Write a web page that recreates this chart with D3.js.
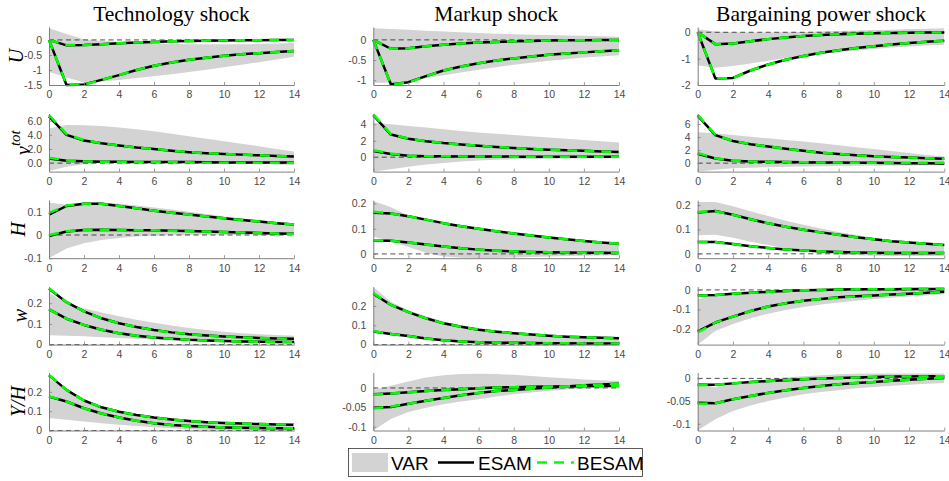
<!DOCTYPE html>
<html><head><meta charset="utf-8">
<script src="https://cdn.jsdelivr.net/npm/d3@7"></script>
<style>body{margin:0;background:#fff} svg{display:block}</style>
</head><body><svg id="chart" width="949" height="481"></svg>
<script>
// ---------- categories / labels ----------
const horizons = [0,1,2,3,4,5,6,7,8,9,10,11,12,13,14];
const xTicks = [0,2,4,6,8,10,12,14];
const shockTitles = ["Technology shock","Markup shock","Bargaining power shock"];
const rowVars = ["U","v","H","w","Y/H"];
const legendLabels = ["VAR","ESAM","BESAM"];

// ---------- Technology shock ----------
const tech_U_lo    = [-1.06,-1.25,-1.42,-1.38,-1.33,-1.27,-1.21,-1.14,-1.07,-0.99,-0.91,-0.83,-0.74,-0.65,-0.56];
const tech_U_hi    = [0.39,0.2,0.02,-0.04,-0.07,-0.095,-0.115,-0.13,-0.14,-0.145,-0.145,-0.14,-0.13,-0.12,-0.1];
const tech_U_esam1 = [0,-0.18,-0.17,-0.14,-0.11,-0.085,-0.065,-0.048,-0.035,-0.025,-0.018,-0.012,-0.007,-0.003,0];
const tech_U_besam1= [0,-0.17,-0.17,-0.14,-0.11,-0.085,-0.065,-0.048,-0.035,-0.025,-0.018,-0.012,-0.007,-0.003,0];
const tech_U_esam2 = [0,-1.5,-1.48,-1.33,-1.17,-1.0,-0.86,-0.75,-0.66,-0.59,-0.53,-0.48,-0.44,-0.4,-0.37];
const tech_U_besam2= [0,-1.49,-1.49,-1.33,-1.17,-1.0,-0.86,-0.75,-0.66,-0.59,-0.53,-0.48,-0.44,-0.4,-0.37];
const tech_U_ticks = [-1.5,-1,-0.5,0];
const tech_U_tickLabels = ["-1.5","-1","-0.5","0"];

const tech_V_lo    = [-1.1,-0.5,-0.15,0.05,0.15,0.22,0.26,0.25,0.18,0.1,0.02,-0.05,-0.1,-0.18,-0.25];
const tech_V_hi    = [4.9,5.4,5.35,5.25,5.05,4.8,4.5,4.15,3.8,3.45,3.1,2.75,2.4,2.0,1.65];
const tech_V_esam1 = [6.6,4.0,3.2,2.8,2.5,2.2,2.0,1.75,1.55,1.4,1.3,1.2,1.1,1.0,0.95];
const tech_V_besam1= [6.8,4.1,3.25,2.8,2.5,2.2,2.0,1.75,1.55,1.4,1.3,1.2,1.1,1.0,0.95];
const tech_V_esam2 = [0.65,0.35,0.25,0.2,0.18,0.17,0.16,0.15,0.14,0.12,0.1,0.1,0.1,0.1,0.1];
const tech_V_besam2= [0.75,0.38,0.25,0.2,0.18,0.17,0.16,0.15,0.12,0.05,0.05,0.05,0.05,0.05,0.05];
const tech_V_ticks = [0,2,4,6];
const tech_V_tickLabels = ["0.0","2.0","4.0","6.0"];

const tech_H_lo    = [-0.1,-0.058,-0.036,-0.022,-0.013,-0.007,-0.003,-0.001,0.0,0.001,0.001,0.001,0.001,0.001,0.001];
const tech_H_hi    = [0.14,0.13,0.14,0.14,0.135,0.127,0.118,0.11,0.1,0.09,0.08,0.072,0.064,0.056,0.05];
const tech_H_esam1 = [0.088,0.125,0.135,0.135,0.125,0.115,0.105,0.096,0.088,0.08,0.072,0.065,0.058,0.051,0.045];
const tech_H_besam1= [0.095,0.127,0.135,0.135,0.125,0.115,0.105,0.096,0.088,0.08,0.072,0.065,0.058,0.051,0.045];
const tech_H_esam2 = [-0.004,0.015,0.022,0.023,0.022,0.021,0.02,0.018,0.017,0.015,0.013,0.011,0.009,0.007,0.005];
const tech_H_besam2= [0.0,0.016,0.022,0.023,0.022,0.021,0.02,0.018,0.017,0.015,0.013,0.011,0.009,0.006,0.004];
const tech_H_ticks = [-0.1,0,0.1];
const tech_H_tickLabels = ["-0.1","0","0.1"];

const tech_W_lo    = [0.045,0.043,0.04,0.036,0.032,0.028,0.025,0.022,0.019,0.017,0.015,0.013,0.012,0.011,0.01];
const tech_W_hi    = [0.25,0.2,0.175,0.155,0.137,0.12,0.105,0.092,0.08,0.07,0.062,0.055,0.05,0.046,0.043];
const tech_W_esam1 = [0.27,0.205,0.16,0.127,0.103,0.085,0.07,0.059,0.05,0.044,0.039,0.035,0.032,0.03,0.028];
const tech_W_besam1= [0.272,0.205,0.16,0.127,0.103,0.085,0.07,0.059,0.05,0.044,0.039,0.035,0.032,0.03,0.028];
const tech_W_esam2 = [0.17,0.125,0.095,0.072,0.055,0.043,0.034,0.028,0.023,0.02,0.017,0.015,0.014,0.013,0.012];
const tech_W_besam2= [0.17,0.125,0.095,0.072,0.055,0.043,0.034,0.028,0.023,0.02,0.017,0.015,0.014,0.013,0.012];
const tech_W_ticks = [0,0.1,0.2];
const tech_W_tickLabels = ["0","0.1","0.2"];

const tech_Y_lo    = [0.065,0.055,0.046,0.038,0.03,0.023,0.017,0.011,0.006,0.003,0.001,0.0,0.0,0.0,0.0];
const tech_Y_hi    = [0.27,0.205,0.152,0.118,0.096,0.08,0.068,0.058,0.05,0.044,0.04,0.037,0.034,0.032,0.031];
const tech_Y_esam1 = [0.285,0.21,0.155,0.12,0.097,0.08,0.067,0.057,0.049,0.043,0.039,0.036,0.033,0.031,0.03];
const tech_Y_besam1= [0.287,0.21,0.155,0.12,0.097,0.08,0.067,0.057,0.049,0.043,0.039,0.036,0.033,0.031,0.03];
const tech_Y_esam2 = [0.175,0.15,0.115,0.088,0.067,0.05,0.038,0.029,0.023,0.019,0.016,0.014,0.013,0.012,0.012];
const tech_Y_besam2= [0.177,0.15,0.115,0.088,0.067,0.05,0.038,0.029,0.023,0.019,0.016,0.014,0.013,0.012,0.012];
const tech_Y_ticks = [0,0.1,0.2];
const tech_Y_tickLabels = ["0","0.1","0.2"];

// ---------- Markup shock ----------
const mark_U_lo    = [-1.07,-1.06,-1.02,-0.95,-0.88,-0.81,-0.74,-0.68,-0.62,-0.57,-0.52,-0.48,-0.44,-0.41,-0.38];
const mark_U_hi    = [0.29,0.27,0.25,0.23,0.21,0.19,0.17,0.155,0.14,0.13,0.12,0.11,0.1,0.09,0.08];
const mark_U_esam1 = [0,-0.22,-0.21,-0.16,-0.12,-0.09,-0.065,-0.05,-0.035,-0.025,-0.018,-0.012,-0.008,-0.005,-0.003];
const mark_U_besam1= [0,-0.22,-0.21,-0.16,-0.12,-0.09,-0.065,-0.05,-0.035,-0.025,-0.018,-0.012,-0.008,-0.005,-0.003];
const mark_U_esam2 = [0,-1.1,-1.05,-0.9,-0.76,-0.66,-0.58,-0.51,-0.46,-0.41,-0.37,-0.34,-0.31,-0.28,-0.26];
const mark_U_besam2= [0,-1.1,-1.06,-0.9,-0.76,-0.66,-0.58,-0.51,-0.46,-0.41,-0.37,-0.34,-0.31,-0.28,-0.26];
const mark_U_ticks = [-1,-0.5,0];
const mark_U_tickLabels = ["-1","-0.5","0"];

const mark_V_lo    = [-1.75,-1.45,-1.15,-0.9,-0.7,-0.52,-0.4,-0.32,-0.26,-0.22,-0.19,-0.17,-0.15,-0.14,-0.13];
const mark_V_hi    = [4.2,4.0,3.8,3.6,3.4,3.2,3.0,2.85,2.7,2.55,2.4,2.25,2.1,1.95,1.8];
const mark_V_esam1 = [5.1,2.75,2.25,1.95,1.72,1.55,1.4,1.25,1.12,1.0,0.92,0.84,0.77,0.7,0.63];
const mark_V_besam1= [5.2,2.8,2.25,1.95,1.72,1.55,1.4,1.25,1.12,1.0,0.92,0.84,0.77,0.7,0.6];
const mark_V_esam2 = [0.75,0.4,0.18,0.13,0.11,0.1,0.09,0.08,0.07,0.06,0.05,0.05,0.05,0.04,0.04];
const mark_V_besam2= [0.85,0.45,0.18,0.13,0.11,0.1,0.09,0.08,0.07,0.06,0.05,0.05,0.05,0.04,0.04];
const mark_V_ticks = [0,2,4];
const mark_V_tickLabels = ["0","2","4"];

const mark_H_lo    = [0.068,0.05,0.027,0.005,-0.01,-0.015,-0.016,-0.016,-0.014,-0.012,-0.01,-0.008,-0.007,-0.006,-0.005];
const mark_H_hi    = [0.21,0.185,0.152,0.136,0.123,0.112,0.101,0.091,0.082,0.074,0.066,0.059,0.052,0.046,0.041];
const mark_H_esam1 = [0.163,0.16,0.149,0.136,0.122,0.11,0.1,0.09,0.081,0.073,0.065,0.058,0.051,0.045,0.04];
const mark_H_besam1= [0.167,0.16,0.149,0.136,0.122,0.11,0.1,0.09,0.081,0.073,0.065,0.058,0.051,0.045,0.04];
const mark_H_esam2 = [0.053,0.052,0.045,0.037,0.029,0.022,0.017,0.013,0.01,0.008,0.007,0.006,0.005,0.005,0.004];
const mark_H_besam2= [0.054,0.052,0.045,0.037,0.029,0.022,0.017,0.013,0.01,0.008,0.007,0.006,0.005,0.005,0.004];
const mark_H_ticks = [0,0.1,0.2];
const mark_H_tickLabels = ["0","0.1","0.2"];

const mark_W_lo    = [0.068,0.055,0.043,0.032,0.024,0.018,0.013,0.009,0.006,0.004,0.003,0.002,0.002,0.001,0.001];
const mark_W_hi    = [0.298,0.222,0.178,0.146,0.12,0.1,0.085,0.074,0.064,0.057,0.05,0.045,0.041,0.038,0.036];
const mark_W_esam1 = [0.263,0.205,0.168,0.136,0.11,0.092,0.077,0.067,0.059,0.052,0.046,0.041,0.038,0.035,0.033];
const mark_W_besam1= [0.267,0.205,0.168,0.136,0.11,0.092,0.077,0.067,0.059,0.052,0.046,0.041,0.038,0.035,0.033];
const mark_W_esam2 = [0.068,0.055,0.044,0.031,0.022,0.016,0.012,0.01,0.009,0.008,0.007,0.007,0.006,0.006,0.006];
const mark_W_besam2= [0.07,0.055,0.044,0.031,0.022,0.016,0.012,0.01,0.009,0.008,0.007,0.007,0.006,0.006,0.006];
const mark_W_ticks = [0,0.1,0.2];
const mark_W_tickLabels = ["0","0.1","0.2"];

const mark_Y_lo    = [-0.11,-0.08,-0.062,-0.051,-0.042,-0.035,-0.029,-0.022,-0.016,-0.012,-0.008,-0.004,-0.001,0.001,0.003];
const mark_Y_hi    = [-0.005,0.006,0.017,0.027,0.033,0.036,0.037,0.036,0.034,0.031,0.028,0.025,0.022,0.02,0.018];
const mark_Y_esam1 = [-0.016,-0.014,-0.011,-0.008,-0.005,-0.003,-0.001,0.001,0.002,0.003,0.004,0.004,0.005,0.005,0.005];
const mark_Y_besam1= [-0.017,-0.014,-0.011,-0.008,-0.005,-0.003,-0.001,0.001,0.002,0.003,0.004,0.004,0.005,0.005,0.005];
const mark_Y_esam2 = [-0.051,-0.049,-0.041,-0.033,-0.026,-0.019,-0.013,-0.008,-0.005,-0.002,0.001,0.004,0.007,0.009,0.011];
const mark_Y_besam2= [-0.053,-0.048,-0.041,-0.033,-0.026,-0.019,-0.013,-0.008,-0.005,-0.002,0.001,0.004,0.007,0.009,0.011];
const mark_Y_ticks = [-0.1,-0.05,0];
const mark_Y_tickLabels = ["-0.1","-0.05","0"];

// ---------- Bargaining power shock ----------
const barg_U_lo    = [-1.25,-1.35,-1.28,-1.18,-1.08,-0.98,-0.9,-0.82,-0.75,-0.69,-0.63,-0.58,-0.54,-0.5,-0.47];
const barg_U_hi    = [0.11,0.03,0.0,-0.01,-0.01,0.0,0.01,0.03,0.05,0.07,0.09,0.1,0.12,0.13,0.15];
const barg_U_esam1 = [0,-0.45,-0.43,-0.34,-0.26,-0.2,-0.14,-0.1,-0.075,-0.055,-0.04,-0.03,-0.02,-0.01,-0.005];
const barg_U_besam1= [0,-0.45,-0.43,-0.34,-0.26,-0.2,-0.14,-0.1,-0.075,-0.055,-0.04,-0.03,-0.02,-0.01,-0.005];
const barg_U_esam2 = [0,-1.75,-1.73,-1.45,-1.22,-1.04,-0.9,-0.78,-0.68,-0.6,-0.53,-0.46,-0.41,-0.36,-0.32];
const barg_U_besam2= [0,-1.74,-1.74,-1.45,-1.22,-1.04,-0.9,-0.78,-0.68,-0.6,-0.53,-0.46,-0.41,-0.36,-0.32];
const barg_U_ticks = [-2,-1,0];
const barg_U_tickLabels = ["-2","-1","0"];

const barg_V_lo    = [-1.3,-1.0,-0.8,-0.7,-0.62,-0.56,-0.52,-0.48,-0.45,-0.42,-0.4,-0.38,-0.36,-0.34,-0.32];
const barg_V_hi    = [4.75,4.6,4.3,4.05,3.8,3.55,3.3,3.05,2.75,2.45,2.15,1.85,1.55,1.25,1.0];
const barg_V_esam1 = [7.3,4.3,3.4,2.9,2.55,2.2,1.9,1.6,1.4,1.2,1.05,0.95,0.85,0.75,0.68];
const barg_V_besam1= [7.4,4.35,3.4,2.9,2.55,2.2,1.9,1.6,1.4,1.2,1.05,0.95,0.85,0.75,0.68];
const barg_V_esam2 = [1.45,0.7,0.38,0.25,0.2,0.16,0.13,0.1,0.08,0.06,0.04,0.02,0.0,-0.02,-0.05];
const barg_V_besam2= [1.55,0.75,0.38,0.25,0.2,0.16,0.13,0.1,0.08,0.06,0.05,0.05,0.05,0.05,0.04];
const barg_V_ticks = [0,2,4,6];
const barg_V_tickLabels = ["0","2","4","6"];

const barg_H_lo    = [0.076,0.078,0.066,0.05,0.036,0.022,0.011,0.003,-0.003,-0.006,-0.008,-0.009,-0.009,-0.009,-0.009];
const barg_H_hi    = [0.213,0.213,0.195,0.175,0.155,0.136,0.119,0.104,0.09,0.077,0.066,0.057,0.049,0.043,0.038];
const barg_H_esam1 = [0.17,0.176,0.16,0.142,0.125,0.111,0.099,0.088,0.078,0.068,0.06,0.052,0.046,0.041,0.036];
const barg_H_besam1= [0.172,0.175,0.16,0.142,0.125,0.111,0.099,0.088,0.078,0.068,0.06,0.052,0.046,0.041,0.036];
const barg_H_esam2 = [0.048,0.048,0.04,0.031,0.024,0.018,0.014,0.01,0.007,0.005,0.004,0.003,0.003,0.003,0.003];
const barg_H_besam2= [0.048,0.048,0.04,0.031,0.024,0.018,0.014,0.01,0.007,0.005,0.004,0.003,0.003,0.003,0.003];
const barg_H_ticks = [0,0.1,0.2];
const barg_H_tickLabels = ["0","0.1","0.2"];

const barg_W_lo    = [-0.28,-0.21,-0.175,-0.145,-0.122,-0.103,-0.088,-0.075,-0.064,-0.055,-0.047,-0.04,-0.034,-0.028,-0.022];
const barg_W_hi    = [-0.047,-0.03,-0.018,-0.01,-0.004,0.0,0.003,0.005,0.006,0.007,0.008,0.008,0.008,0.008,0.008];
const barg_W_esam1 = [-0.028,-0.026,-0.02,-0.015,-0.01,-0.005,-0.002,0.0,0.002,0.003,0.004,0.004,0.005,0.005,0.005];
const barg_W_besam1= [-0.03,-0.026,-0.02,-0.015,-0.01,-0.005,-0.002,0.0,0.002,0.003,0.004,0.004,0.005,0.006,0.006];
const barg_W_esam2 = [-0.212,-0.167,-0.137,-0.108,-0.085,-0.068,-0.055,-0.046,-0.038,-0.033,-0.029,-0.024,-0.02,-0.015,-0.01];
const barg_W_besam2= [-0.218,-0.167,-0.137,-0.108,-0.085,-0.068,-0.055,-0.046,-0.038,-0.033,-0.029,-0.024,-0.02,-0.015,-0.01];
const barg_W_ticks = [-0.2,-0.1,0];
const barg_W_tickLabels = ["-0.2","-0.1","0"];

const barg_Y_lo    = [-0.115,-0.09,-0.072,-0.06,-0.05,-0.042,-0.035,-0.03,-0.026,-0.022,-0.019,-0.016,-0.014,-0.012,-0.01];
const barg_Y_hi    = [-0.01,-0.02,-0.012,-0.006,-0.002,0.002,0.005,0.007,0.009,0.01,0.011,0.011,0.011,0.011,0.011];
const barg_Y_esam1 = [-0.014,-0.014,-0.011,-0.008,-0.006,-0.004,-0.002,0.0,0.001,0.002,0.003,0.004,0.004,0.005,0.005];
const barg_Y_besam1= [-0.015,-0.014,-0.011,-0.008,-0.006,-0.004,-0.002,0.0,0.001,0.002,0.003,0.004,0.004,0.004,0.005];
const barg_Y_esam2 = [-0.054,-0.055,-0.046,-0.039,-0.032,-0.026,-0.021,-0.017,-0.013,-0.01,-0.008,-0.005,-0.003,-0.001,0.001];
const barg_Y_besam2= [-0.056,-0.055,-0.046,-0.039,-0.032,-0.026,-0.021,-0.017,-0.013,-0.01,-0.008,-0.005,-0.003,-0.001,0.002];
const barg_Y_ticks = [-0.1,-0.05,0];
const barg_Y_tickLabels = ["-0.1","-0.05","0"];

// ---------- y-axis ranges per panel ----------
const tech_domains = [[-1.5,0.43],[-1.2,7.0],[-0.1,0.15],[0,0.28],[0,0.3]];
const mark_domains = [[-1.12,0.32],[-1.75,5.3],[-0.017,0.213],[0,0.3],[-0.11,0.04]];
const barg_domains = [[-2,0.2],[-1.3,7.6],[-0.018,0.22],[-0.28,0.017],[-0.115,0.013]];

// ---------- assemble ----------
function P(lo,hi,e1,b1,e2,b2,ticks,labels,dom){return {lo,hi,e1,b1,e2,b2,ticks,labels,dom};}
const columns = [
 [P(tech_U_lo,tech_U_hi,tech_U_esam1,tech_U_besam1,tech_U_esam2,tech_U_besam2,tech_U_ticks,tech_U_tickLabels,tech_domains[0]),
  P(tech_V_lo,tech_V_hi,tech_V_esam1,tech_V_besam1,tech_V_esam2,tech_V_besam2,tech_V_ticks,tech_V_tickLabels,tech_domains[1]),
  P(tech_H_lo,tech_H_hi,tech_H_esam1,tech_H_besam1,tech_H_esam2,tech_H_besam2,tech_H_ticks,tech_H_tickLabels,tech_domains[2]),
  P(tech_W_lo,tech_W_hi,tech_W_esam1,tech_W_besam1,tech_W_esam2,tech_W_besam2,tech_W_ticks,tech_W_tickLabels,tech_domains[3]),
  P(tech_Y_lo,tech_Y_hi,tech_Y_esam1,tech_Y_besam1,tech_Y_esam2,tech_Y_besam2,tech_Y_ticks,tech_Y_tickLabels,tech_domains[4])],
 [P(mark_U_lo,mark_U_hi,mark_U_esam1,mark_U_besam1,mark_U_esam2,mark_U_besam2,mark_U_ticks,mark_U_tickLabels,mark_domains[0]),
  P(mark_V_lo,mark_V_hi,mark_V_esam1,mark_V_besam1,mark_V_esam2,mark_V_besam2,mark_V_ticks,mark_V_tickLabels,mark_domains[1]),
  P(mark_H_lo,mark_H_hi,mark_H_esam1,mark_H_besam1,mark_H_esam2,mark_H_besam2,mark_H_ticks,mark_H_tickLabels,mark_domains[2]),
  P(mark_W_lo,mark_W_hi,mark_W_esam1,mark_W_besam1,mark_W_esam2,mark_W_besam2,mark_W_ticks,mark_W_tickLabels,mark_domains[3]),
  P(mark_Y_lo,mark_Y_hi,mark_Y_esam1,mark_Y_besam1,mark_Y_esam2,mark_Y_besam2,mark_Y_ticks,mark_Y_tickLabels,mark_domains[4])],
 [P(barg_U_lo,barg_U_hi,barg_U_esam1,barg_U_besam1,barg_U_esam2,barg_U_besam2,barg_U_ticks,barg_U_tickLabels,barg_domains[0]),
  P(barg_V_lo,barg_V_hi,barg_V_esam1,barg_V_besam1,barg_V_esam2,barg_V_besam2,barg_V_ticks,barg_V_tickLabels,barg_domains[1]),
  P(barg_H_lo,barg_H_hi,barg_H_esam1,barg_H_besam1,barg_H_esam2,barg_H_besam2,barg_H_ticks,barg_H_tickLabels,barg_domains[2]),
  P(barg_W_lo,barg_W_hi,barg_W_esam1,barg_W_besam1,barg_W_esam2,barg_W_besam2,barg_W_ticks,barg_W_tickLabels,barg_domains[3]),
  P(barg_Y_lo,barg_Y_hi,barg_Y_esam1,barg_Y_besam1,barg_Y_esam2,barg_Y_besam2,barg_Y_ticks,barg_Y_tickLabels,barg_domains[4])]
];

// ---------- layout ----------
const colX = [49, 373.3, 697.7];
const colW = [245, 245.7, 246.6];
const rowBottom = [85, 171.6, 258.2, 344.6, 430.5];
const axH = 58;
const AX = "#808080", TXT = "#4a4a4a", BAND = "#d3d3d3", GREEN = "#00ff00";
const tickFont = "Liberation Sans, Arial, sans-serif";
const serif = "Liberation Serif, Times New Roman, serif";

const svg = d3.select("#chart");
const defs = svg.append("defs");

columns.forEach((col, c) => {
  // column title
  svg.append("text").attr("x", colX[c] + colW[c]/2).attr("y", 21)
    .attr("text-anchor","middle").attr("font-family", serif).attr("font-size", 21.5)
    .attr("fill","#000").text(shockTitles[c]);

  col.forEach((p, r) => {
    const x = d3.scaleLinear().domain([0,14]).range([colX[c], colX[c]+colW[c]]);
    const y = d3.scaleLinear().domain(p.dom).range([rowBottom[r], rowBottom[r]-axH]);
    const g = svg.append("g");
    const cid = `clip${c}_${r}`, lid = `clipL${c}_${r}`;
    defs.append("clipPath").attr("id", cid).append("rect")
      .attr("x", colX[c]).attr("y", rowBottom[r]-axH).attr("width", colW[c]).attr("height", axH);
    defs.append("clipPath").attr("id", lid).append("rect")
      .attr("x", colX[c]-2).attr("y", rowBottom[r]-axH-2).attr("width", colW[c]+4).attr("height", axH+4);

    // VAR band
    const area = d3.area().x((d,i)=>x(horizons[i])).y0((d,i)=>y(p.lo[i])).y1((d,i)=>y(p.hi[i]));
    g.append("path").datum(horizons).attr("d", area).attr("fill", BAND).attr("clip-path", `url(#${cid})`);

    // zero line
    if (p.dom[0] <= 0 && p.dom[1] >= 0) {
      g.append("line").attr("x1", x(0)).attr("x2", x(14)).attr("y1", y(0)).attr("y2", y(0))
        .attr("stroke","#222").attr("stroke-width",0.8).attr("stroke-dasharray","5,3.5");
    }

    const line = arr => d3.line().x((d,i)=>x(horizons[i])).y((d,i)=>y(arr[i]))(horizons);
    const lg = g.append("g").attr("clip-path", `url(#${lid})`).attr("fill","none");
    [p.e1, p.e2].forEach(arr => lg.append("path").attr("d", line(arr))
      .attr("stroke","#000").attr("stroke-width",2.5).attr("stroke-linejoin","round"));
    [p.b1, p.b2].forEach(arr => lg.append("path").attr("d", line(arr))
      .attr("stroke",GREEN).attr("stroke-width",2.5).attr("stroke-dasharray","10,7"));

    // axes (MATLAB style: left + bottom, inward ticks)
    const xAxis = d3.axisBottom(x).tickValues(xTicks).tickSizeInner(-3).tickSizeOuter(0).tickPadding(6).tickFormat(d3.format("d"));
    const ga = g.append("g").attr("transform", `translate(0,${rowBottom[r]})`).call(xAxis);
    const yAxis = d3.axisLeft(y).tickValues(p.ticks).tickSizeInner(-3).tickSizeOuter(0).tickPadding(7)
      .tickFormat((d,i)=>p.labels[i]);
    const gy = g.append("g").attr("transform", `translate(${colX[c]},0)`).call(yAxis);
    [ga, gy].forEach(a => {
      a.select(".domain").attr("stroke", AX).attr("stroke-width", 1);
      a.selectAll(".tick line").attr("stroke", AX).attr("stroke-width", 0.8);
      a.selectAll(".tick text").attr("fill", TXT).attr("font-family", tickFont).attr("font-size", 10.5);
    });
  });
});

// row labels (italic serif, rotated)
const rowLabelX = [23, 30, 25, 27, 25];
rowVars.forEach((v, r) => {
  const cy = rowBottom[r] - axH/2;
  const t = svg.append("text").attr("transform", `translate(${rowLabelX[r]},${cy}) rotate(-90)`)
    .attr("text-anchor","middle").attr("font-family", serif).attr("font-style","italic")
    .attr("font-size", 20).attr("fill","#000");
  if (r === 1) {
    t.append("tspan").text("v");
    t.append("tspan").attr("font-size", 15).attr("dy", -10).text("tot");
  } else {
    t.text(v);
  }
});

// legend
const lgd = svg.append("g");
lgd.append("rect").attr("x",348.5).attr("y",448.5).attr("width",294).attr("height",28)
  .attr("fill","#fff").attr("stroke","#333").attr("stroke-width",0.8);
lgd.append("rect").attr("x",352).attr("y",453).attr("width",36).attr("height",19).attr("fill",BAND);
lgd.append("line").attr("x1",438).attr("x2",474).attr("y1",462.5).attr("y2",462.5)
  .attr("stroke","#000").attr("stroke-width",2.5);
lgd.append("line").attr("x1",537).attr("x2",574).attr("y1",462.5).attr("y2",462.5)
  .attr("stroke",GREEN).attr("stroke-width",2.5).attr("stroke-dasharray","10,7");
const legX = [391, 478, 577];
legendLabels.forEach((s,i) => lgd.append("text").attr("x", legX[i]).attr("y", 469.5)
  .attr("font-family", tickFont).attr("font-size", 19).attr("fill","#000").text(s));
</script>
</body></html>
